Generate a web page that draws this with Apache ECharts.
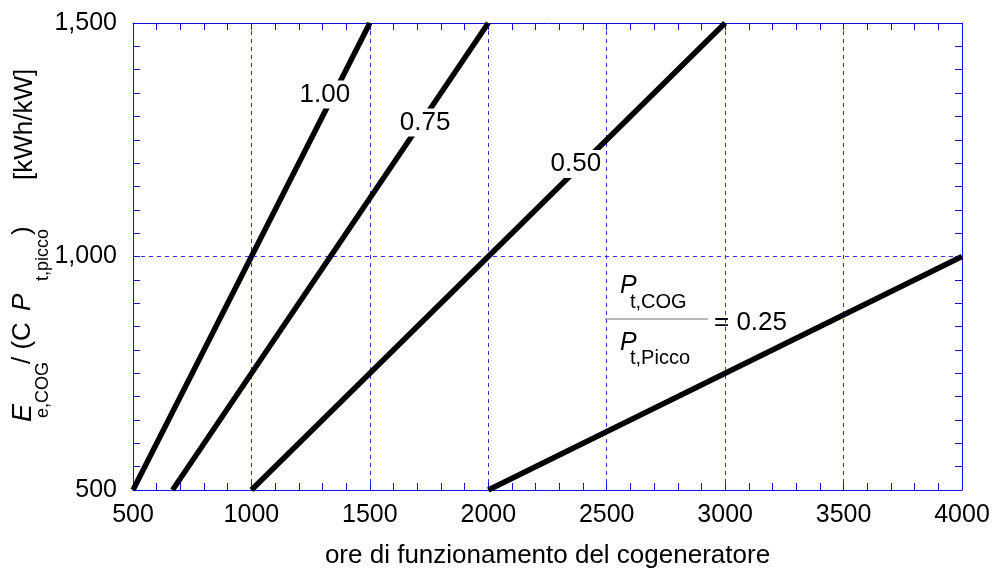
<!DOCTYPE html>
<html><head><meta charset="utf-8">
<script src="https://cdn.jsdelivr.net/npm/echarts@6/dist/echarts.min.js"></script>
<style>html,body{margin:0;padding:0;background:#fff}#c{width:995px;height:574px}</style>
</head><body><div id="c"></div>
<script>
// ---- data ----
const ratioLabels = ['1.00', '0.75', '0.50', '0.25'];
const startHours = [500, 667, 1000, 2000];
const startEnergy = [500, 500, 500, 500];
const endHours = [1500, 2000, 3000, 4000];
const endEnergy = [1500, 1500, 1500, 1000];
const labelHours = [1310, 1733, 2370, null];
const labelEnergy = [1347, 1287, 1198, null];
const xTicks = [500, 1000, 1500, 2000, 2500, 3000, 3500, 4000];
const yTicks = [500, 1000, 1500];

const FONT = "'Liberation Sans', Arial, sans-serif";
const BLUE = '#1010e0';
const GRID_BLUE = '#3030f0';
const chart = echarts.init(document.getElementById('c'), null, {renderer: 'canvas'});

const axisLine = {show: true, lineStyle: {color: BLUE, width: 1}};
const axisTick = {show: true, inside: true, length: 7, lineStyle: {color: BLUE}};

const series = ratioLabels.map((r, i) => {
  const s = {
    type: 'line',
    name: r,
    data: [[startHours[i], startEnergy[i]], [endHours[i], endEnergy[i]]],
    showSymbol: false, symbol: 'none',
    lineStyle: {color: '#000', width: 5.5},
    z: 3
  };
  if (labelHours[i] != null) {
    s.markPoint = {
      symbol: 'rect', symbolSize: 0, silent: true, z: 10,
      data: [{coord: [labelHours[i], labelEnergy[i]], value: r}],
      label: {show: true, position: 'inside', formatter: r, color: '#000',
        fontFamily: FONT, fontSize: 26, backgroundColor: '#fff', padding: [2, 2, 0, 2]}
    };
  }
  return s;
});

const yTitle = [
  {t: 'E', x: 23, y: 422, size: 27, italic: true},
  {t: 'e,COG', x: 43, y: 418, size: 18},
  {t: '/ (C', x: 23, y: 364, size: 26},
  {t: 'P', x: 23, y: 311, size: 26, italic: true},
  {t: 't,picco', x: 43, y: 281, size: 18},
  {t: ')', x: 23, y: 235, size: 26},
  {t: '[kWh/kW]', x: 25, y: 180, size: 26}
];
const graphic = yTitle.map(p => ({
  type: 'text', x: p.x, y: p.y, rotation: Math.PI / 2, silent: true,
  style: {text: p.t, fill: '#000', font: (p.italic ? 'italic ' : '') + p.size + 'px ' + FONT,
    textAlign: 'left', textVerticalAlign: 'middle'}
}));
const frac = [
  {t: 'P', x: 620, y: 286, size: 25, italic: true},
  {t: 't,COG', x: 630, y: 302, size: 20},
  {t: 'P', x: 620, y: 343, size: 25, italic: true},
  {t: 't,Picco', x: 630, y: 358, size: 20},
  {t: '= 0.25', x: 714, y: 323, size: 26}
];
frac.forEach(p => graphic.push({
  type: 'text', x: p.x, y: p.y, silent: true, z: 20,
  style: {text: p.t, fill: '#000', font: (p.italic ? 'italic ' : '') + p.size + 'px ' + FONT,
    textAlign: 'left', textVerticalAlign: 'middle'}
}));
graphic.push({type: 'line', silent: true, z: 20,
  shape: {x1: 605, y1: 319, x2: 708, y2: 319},
  style: {stroke: '#777', lineWidth: 1.2}});

chart.setOption({
  animation: false,
  backgroundColor: '#fff',
  grid: {left: 133, right: 33, top: 23, bottom: 81},
  xAxis: [
    {
      type: 'value', min: 500, max: 4000, interval: 500, position: 'bottom',
      axisLine: axisLine, axisTick: axisTick,
      minorTick: {show: true, splitNumber: 5, length: 7, lineStyle: {color: BLUE}},
      axisLabel: {show: true, color: '#000', fontFamily: FONT, fontSize: 25, margin: 13,
        formatter: v => xTicks.includes(v) ? String(v) : ''},
      splitLine: {show: true, lineStyle: {color: GRID_BLUE, type: [4, 4], width: 1}},
      name: 'ore di funzionamento del cogeneratore', nameLocation: 'middle', nameGap: 53,
      nameTextStyle: {color: '#000', fontFamily: FONT, fontSize: 26}
    },
    {
      type: 'value', min: 500, max: 4000, interval: 500, position: 'top',
      axisLine: axisLine, axisTick: axisTick,
      minorTick: {show: true, splitNumber: 5, length: 7, lineStyle: {color: BLUE}},
      axisLabel: {show: false}, splitLine: {show: false}
    }
  ],
  yAxis: [
    {
      type: 'value', min: 500, max: 1500, interval: 500, position: 'left',
      axisLine: axisLine, axisTick: axisTick,
      minorTick: {show: true, splitNumber: 10, length: 7, lineStyle: {color: BLUE}},
      axisLabel: {show: true, color: '#000', fontFamily: FONT, fontSize: 25, margin: 16,
        formatter: v => yTicks.includes(v) ? v.toLocaleString('en-US') : ''},
      splitLine: {show: true, lineStyle: {color: GRID_BLUE, type: [4, 4], width: 1}}
    },
    {
      type: 'value', min: 500, max: 1500, interval: 500, position: 'right',
      axisLine: axisLine, axisTick: axisTick,
      minorTick: {show: true, splitNumber: 10, length: 7, lineStyle: {color: BLUE}},
      axisLabel: {show: false}, splitLine: {show: false}
    }
  ],
  series: series,
  graphic: graphic
});
</script></body></html>
